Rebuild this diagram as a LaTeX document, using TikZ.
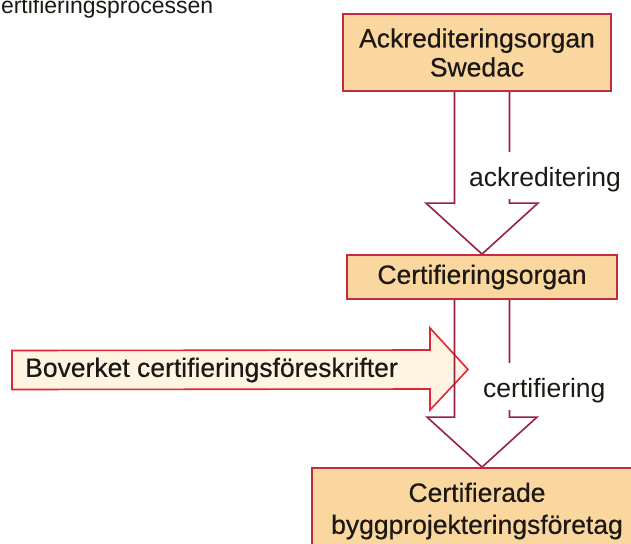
\documentclass[tikz,border=0pt]{standalone}
\usepackage{fontspec}
\setmainfont{Liberation Sans}
\newfontfamily\boxfont{Liberation Sans}[FakeBold=0.5]
\usetikzlibrary{calc,backgrounds}
\definecolor{boxfill}{RGB}{251,215,160}
\definecolor{boxline}{RGB}{196,44,62}
\definecolor{arrline}{RGB}{150,32,72}
\definecolor{leftfill}{RGB}{255,244,226}
\definecolor{leftline}{RGB}{228,36,52}
\definecolor{txt}{RGB}{28,24,20}
\begin{document}
\begin{tikzpicture}[x=1pt,y=-1pt,
  bigfont/.style={font=\fontsize{26.5}{29}\selectfont, text=txt},
  orgbox/.style={font=\boxfont\fontsize{26.5}{29}\selectfont, text=txt, draw=boxline, line width=1.8pt, fill=boxfill, align=center, inner sep=0pt},
  downarr/.style={draw=arrline, line width=1.6pt, line join=miter},
  leftarr/.style={draw=leftline, fill=leftfill, line width=1.6pt, line join=miter},
  lbl/.style={bigfont, fill=white, inner xsep=3pt, inner ysep=2pt, text height=32pt, text depth=11pt, anchor=base west}
]
\useasboundingbox (0,0) rectangle (631,543);
\clip (0,0) rectangle (631,543);

% title (partly cut off by the frame)
\node[anchor=base west, inner sep=0pt, font=\fontsize{23}{23}\selectfont, text=txt] (title) at (-15.8,14) {Certifieringsprocessen};

% boxes
\node[orgbox, minimum width=268pt, minimum height=77pt] (swedac) at (477,52.5) {Ackrediteringsorgan\\Swedac};
\node[orgbox, minimum width=270pt, minimum height=44pt] (cert) at (482,277) {Certifieringsorgan};
\node[orgbox, minimum width=330pt, minimum height=86pt, font=\boxfont\fontsize{26.5}{32}\selectfont] (foretag) at (477,511) {Certifierade\\byggprojekteringsföretag};

% Boverket arrow text
\node[font=\boxfont\fontsize{26.5}{29}\selectfont, text=txt, anchor=west, inner sep=0pt] (bov) at (25,370) {Boverket certifieringsföreskrifter};
\coordinate (ltip) at (468,369.5);

\begin{scope}[on background layer]
  % ackreditering arrow
  \draw[downarr, fill=white]
    ($(swedac.south -| cert.north)+(-27.5,0)$) -- ($(cert.north)+(-27.5,-51)$)
    -- ($(cert.north)+(-56,-51)$) -- (cert.north) -- ($(cert.north)+(56,-51)$)
    -- ($(cert.north)+(27.5,-51)$) -- ($(swedac.south -| cert.north)+(27.5,0)$);
  % Boverket arrow
  \draw[leftarr]
    ($(bov.west)+(-13,-19.5)$) -- ($(ltip)+(-38,-19.5)$) -- ($(ltip)+(-38,-41.5)$)
    -- (ltip) -- ($(ltip)+(-38,40.5)$) -- ($(ltip)+(-38,19.5)$)
    -- ($(bov.west)+(-13,19.5)$) -- cycle;
  % certifiering arrow
  \draw[downarr]
    ($(cert.south)+(-27.5,0)$) -- ($(foretag.north -| cert.south)+(-27.5,-50)$)
    -- ($(foretag.north -| cert.south)+(-55,-50)$) -- (foretag.north -| cert.south)
    -- ($(foretag.north -| cert.south)+(55,-50)$) -- ($(foretag.north -| cert.south)+(27.5,-50)$)
    -- ($(cert.south)+(27.5,0)$);
\end{scope}

% arrow labels
\node[lbl] (ack) at (466,186) {ackreditering};
\node[lbl] (certlbl) at (480,397) {certifiering};
\end{tikzpicture}
\end{document}
